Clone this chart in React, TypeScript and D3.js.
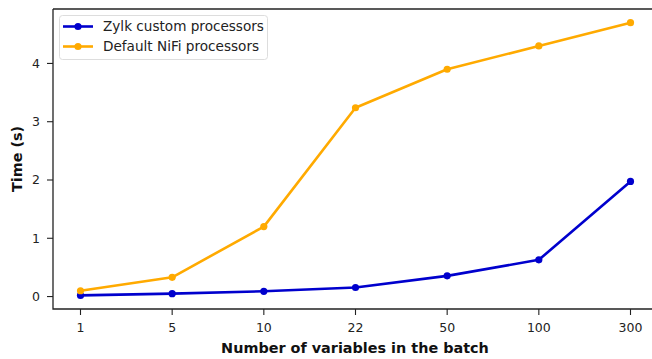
import React from "react";
import * as d3 from "d3";

const categories = ["1", "5", "10", "22", "50", "100", "300"];
const zylkTimes = [0.02, 0.05, 0.09, 0.155, 0.355, 0.63, 1.975];
const nifiTimes = [0.1, 0.33, 1.2, 3.24, 3.9, 4.3, 4.7];
const yTicks = [0, 1, 2, 3, 4];

const series = [
  { name: "Zylk custom processors", values: zylkTimes, color: "#0000cd" },
  { name: "Default NiFi processors", values: nifiTimes, color: "#ffaa00" },
];

const W = 652;
const H = 359;
const left = 53;
const top = 9;
const bottom = 309;
const right = 658;

export default function App() {
  const x = d3.scaleLinear().domain([-0.3, categories.length - 1 + 0.3]).range([left, right]);
  const y = d3.scaleLinear().domain([-0.2135, 4.934]).range([bottom, top]);
  const line = d3
    .line<number>()
    .x((_, i) => x(i))
    .y((v) => y(v));
  const font = "DejaVu Sans, sans-serif";

  return (
    <svg
      width={W}
      height={H}
      style={{ position: "absolute", left: 0, top: 0, background: "#fff" }}
      fontFamily={font}
    >
      {series.map((s) => (
        <g key={s.name}>
          <path d={line(s.values) ?? ""} fill="none" stroke={s.color} strokeWidth={2.6} strokeLinejoin="round" />
          {s.values.map((v, i) => (
            <circle key={i} cx={x(i)} cy={y(v)} r={3.6} fill={s.color} />
          ))}
        </g>
      ))}

      {/* spines */}
      <path d={`M${left},${top}H${right}`} stroke="#222" strokeWidth={1.3} />
      <path d={`M${left},${top}V${bottom}H${right}`} fill="none" stroke="#222" strokeWidth={1.3} />

      {/* y axis */}
      {yTicks.map((t) => (
        <g key={t} transform={`translate(0,${y(t)})`}>
          <line x1={left - 6} x2={left} stroke="#222" strokeWidth={1.1} />
          <text x={left - 13} dy="0.36em" textAnchor="end" fontSize={12.5} fill="#222">
            {t}
          </text>
        </g>
      ))}
      <text
        transform={`translate(21.5,${(top + bottom) / 2}) rotate(-90)`}
        textAnchor="middle"
        fontSize={14.4}
        fontWeight="bold"
        fill="#111"
      >
        Time (s)
      </text>

      {/* x axis */}
      {categories.map((c, i) => (
        <g key={c} transform={`translate(${x(i)},0)`}>
          <line y1={bottom} y2={bottom + 6} stroke="#222" strokeWidth={1.1} />
          <text y={331.5} textAnchor="middle" fontSize={12.5} fill="#222">
            {c}
          </text>
        </g>
      ))}
      <text x={355} y={352.5} textAnchor="middle" fontSize={14.4} fontWeight="bold" fill="#111">
        Number of variables in the batch
      </text>

      {/* legend */}
      <rect x={59.5} y={15.5} width={208} height={44} rx={3} fill="#fff" fillOpacity={0.85} stroke="#ddd" />
      {series.map((s, i) => (
        <g key={s.name} transform={`translate(63,${26.5 + i * 20})`}>
          <line x1={0} x2={30} stroke={s.color} strokeWidth={2.6} />
          <circle cx={15} cy={0} r={3.6} fill={s.color} />
          <text x={40} dy="0.36em" fontSize={13.6} fill="#222">
            {s.name}
          </text>
        </g>
      ))}
    </svg>
  );
}
